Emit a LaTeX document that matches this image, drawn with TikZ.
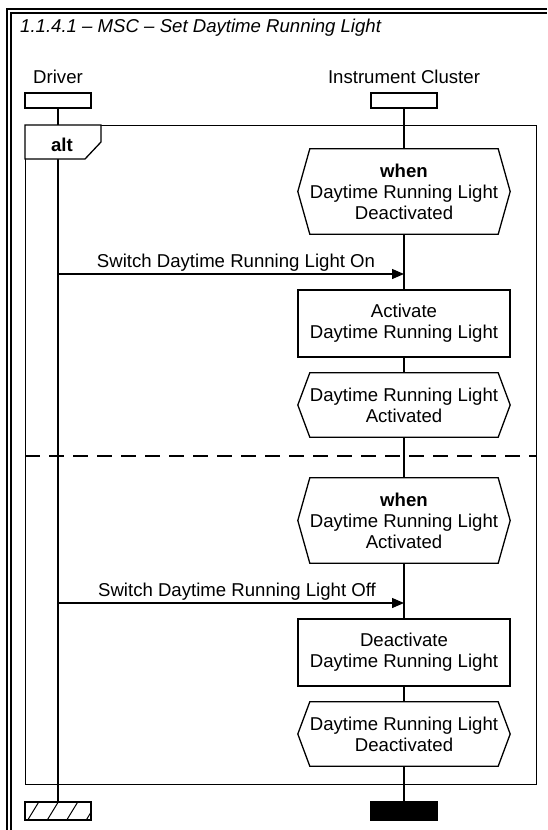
\documentclass[tikz,border=0pt]{standalone}
\usepackage{fontspec}
\setmainfont{Liberation Sans}
\usetikzlibrary{arrows.meta,calc}
\pgfdeclarelayer{lines}
\pgfdeclarelayer{bg}
\pgfsetlayers{lines,bg,main}
\tikzset{
  ln/.style={line width=1.3pt},
  headbox/.style={draw,ln,fill=white,minimum width=66pt,minimum height=15pt,inner sep=0pt},
  endblack/.style={draw,ln,fill=black,minimum width=66pt,minimum height=18pt,inner sep=0pt},
  endhatch/.style={draw,ln,fill=white,minimum width=66pt,minimum height=18pt,inner sep=0pt},
  actbox/.style={draw,ln,fill=white,minimum width=212pt,minimum height=67pt,inner sep=0pt,align=center},
  condtext/.style={minimum width=212pt,inner sep=0pt,align=center},
  hexshape/.style={ln,fill=white},
  lbl/.style={inner sep=0pt,anchor=base},
  msg/.style={ln,-{Triangle[length=12pt,width=10pt]}},
  sep/.style={ln,dash pattern=on 15pt off 9pt},
}
\begin{document}
\begin{tikzpicture}[x=1pt,y=-1pt,every node/.append style={font=\fontsize{18.6}{21}\selectfont}]
\useasboundingbox (0,0) rectangle (547,830);
% outer double frame
\draw[ln] (7,830) -- (7,9) -- (547,9);
\draw[ln] (11,830) -- (11,13) -- (547,13);
% title
\node[inner sep=0pt,anchor=base west] (title) at (20,32) {\itshape 1.1.4.1 \textendash{} MSC \textendash{} Set Daytime Running Light};
% lifeline heads
\node[lbl] (dlab) at (58,83) {Driver};
\node[lbl] (ilab) at (404,83) {Instrument Cluster};
\node[headbox] (dhead) at (58,100.5) {};
\node[headbox] (ihead) at (404,100.5) {};
% end markers
\node[endhatch] (dend) at (58,811) {};
\node[endblack] (iend) at (404,811) {};
\begin{scope}
  \clip (dend.south west) rectangle (dend.north east);
  \foreach \i in {0,...,3}
    \draw[line width=1pt] ($(dend.south west)+(3+\i*19.5,0)$) -- ++(11,-18);
\end{scope}
% lifelines
\begin{pgfonlayer}{lines}
  \draw[ln] (dhead) -- (dend);
  \draw[ln] (ihead) -- (iend);
\end{pgfonlayer}
% alt frame
\node[draw,ln,minimum width=511pt,minimum height=659pt,inner sep=0pt,anchor=north west] (alt) at (25,125) {};
\draw[ln,fill=white] (alt.north west) -- ++(76,0) -- ++(0,17) -- ++(-16,17) -- ++(-60,0) -- cycle;
\node[lbl] (altlab) at (62,151) {\bfseries alt};
\coordinate (sepL) at (25,456);
\coordinate (sepR) at (536,456);
\draw[sep] (sepL) -- (sepR);
% first operand
\node[condtext,minimum height=85pt] (h1) at (404,191.5) {\textbf{when}\\Daytime Running Light\\Deactivated};
\node[lbl] (m1l) at (236,267) {Switch Daytime Running Light On};
\coordinate (m1s) at (58,274);
\coordinate (m1e) at (404,274);
\draw[msg] (m1s) -- (m1e);
\node[actbox] (r1) at (404,323.5) {Activate\\Daytime Running Light};
\node[condtext,minimum height=64pt] (h2) at (404,405) {Daytime Running Light\\Activated};
% second operand
\node[condtext,minimum height=85pt] (h3) at (404,520.5) {\textbf{when}\\Daytime Running Light\\Activated};
\node[lbl] (m2l) at (237,596) {Switch Daytime Running Light Off};
\coordinate (m2s) at (58,603);
\coordinate (m2e) at (404,603);
\draw[msg] (m2s) -- (m2e);
\node[actbox] (r2) at (404,652.5) {Deactivate\\Daytime Running Light};
\node[condtext,minimum height=64pt] (h4) at (404,734) {Daytime Running Light\\Deactivated};
% hexagon outlines
\begin{pgfonlayer}{bg}
  \foreach \n in {h1,h2,h3,h4}
    \draw[hexshape] ($(\n.north west)+(12,0)$) -- ($(\n.north east)+(-12,0)$) -- (\n.east)
      -- ($(\n.south east)+(-12,0)$) -- ($(\n.south west)+(12,0)$) -- (\n.west) -- cycle;
\end{pgfonlayer}
\end{tikzpicture}
\end{document}
